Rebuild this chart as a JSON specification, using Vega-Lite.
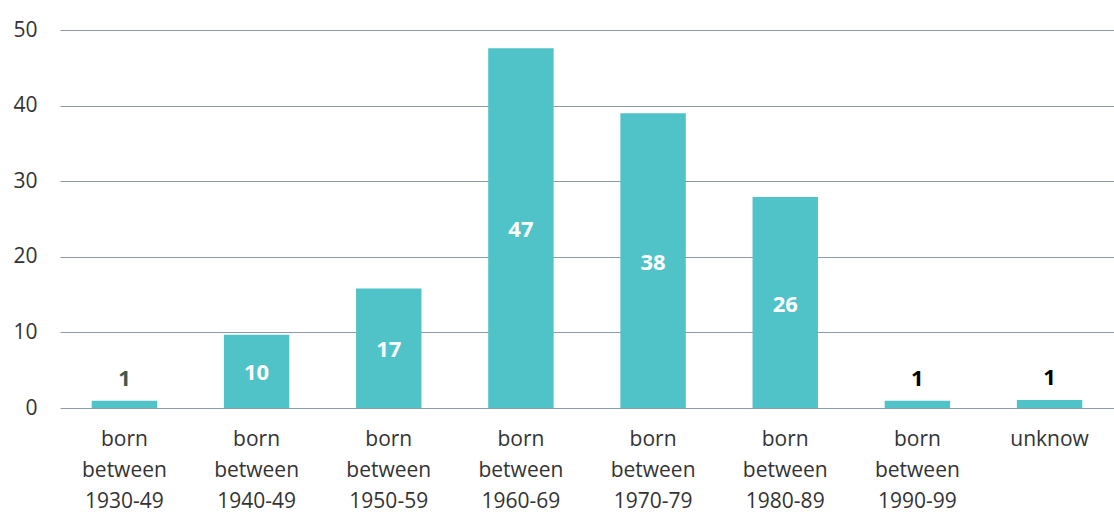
{
  "$schema": "https://vega.github.io/schema/vega-lite/v6.json",
  "width": 1054,
  "height": 378,
  "autosize": {"type": "none"},
  "padding": {"left": 60, "top": 30, "right": 0, "bottom": 106},
  "config": {"view": {"stroke": null}, "font": "Open Sans"},
  "data": {
    "values": [
      {"group": "born between 1930-49", "value": 0.95, "label": "1"},
      {"group": "born between 1940-49", "value": 9.7, "label": "10"},
      {"group": "born between 1950-59", "value": 15.8, "label": "17"},
      {"group": "born between 1960-69", "value": 47.6, "label": "47"},
      {"group": "born between 1970-79", "value": 39.0, "label": "38"},
      {"group": "born between 1980-89", "value": 27.9, "label": "26"},
      {"group": "born between 1990-99", "value": 0.95, "label": "1"},
      {"group": "unknow", "value": 1.05, "label": "1"}
    ]
  },
  "encoding": {
    "x": {
      "field": "group",
      "type": "nominal",
      "sort": null,
      "scale": {"paddingInner": 0.505, "paddingOuter": 0.24},
      "axis": {
        "title": null,
        "labelAngle": 0,
        "labelExpr": "split(datum.label, ' ')",
        "labelFontSize": 21,
        "labelColor": "#333333",
        "labelLineHeight": 31,
        "labelPadding": 20,
        "domain": false,
        "ticks": false
      }
    }
  },
  "layer": [
    {
      "mark": {"type": "bar", "color": "#4fc3c8"},
      "encoding": {
        "y": {
          "field": "value",
          "type": "quantitative",
          "scale": {"domain": [0, 50]},
          "axis": {
            "title": null,
            "values": [0, 10, 20, 30, 40, 50],
            "grid": true,
            "gridColor": "#8a9bac",
            "gridWidth": 1,
            "gridOpacity": 1,
            "domain": false,
            "ticks": false,
            "labelFontSize": 21,
            "labelColor": "#333333",
            "labelPadding": 23
          }
        }
      }
    },
    {
      "transform": [{"filter": "datum.value > 5"}],
      "mark": {"type": "text", "color": "#ffffff", "fontWeight": "bold", "fontSize": 22, "baseline": "middle", "dy": 2},
      "encoding": {
        "y": {"field": "value", "type": "quantitative", "scale": {"domain": [0, 100]}, "axis": null},
        "text": {"field": "label"}
      }
    },
    {
      "transform": [{"filter": "datum.value <= 5"}],
      "mark": {"type": "text", "fontWeight": "bold", "fontSize": 22, "baseline": "middle", "dy": -22},
      "encoding": {
        "y": {"field": "value", "type": "quantitative", "scale": {"domain": [0, 50]}, "axis": null},
        "text": {"field": "label"},
        "color": {
          "field": "group",
          "type": "nominal",
          "scale": {"domain": ["born between 1930-49", "born between 1990-99", "unknow"], "range": ["#3f5a4b", "#000000", "#000000"]},
          "legend": null
        }
      }
    }
  ],
  "resolve": {"scale": {"y": "independent"}}
}
